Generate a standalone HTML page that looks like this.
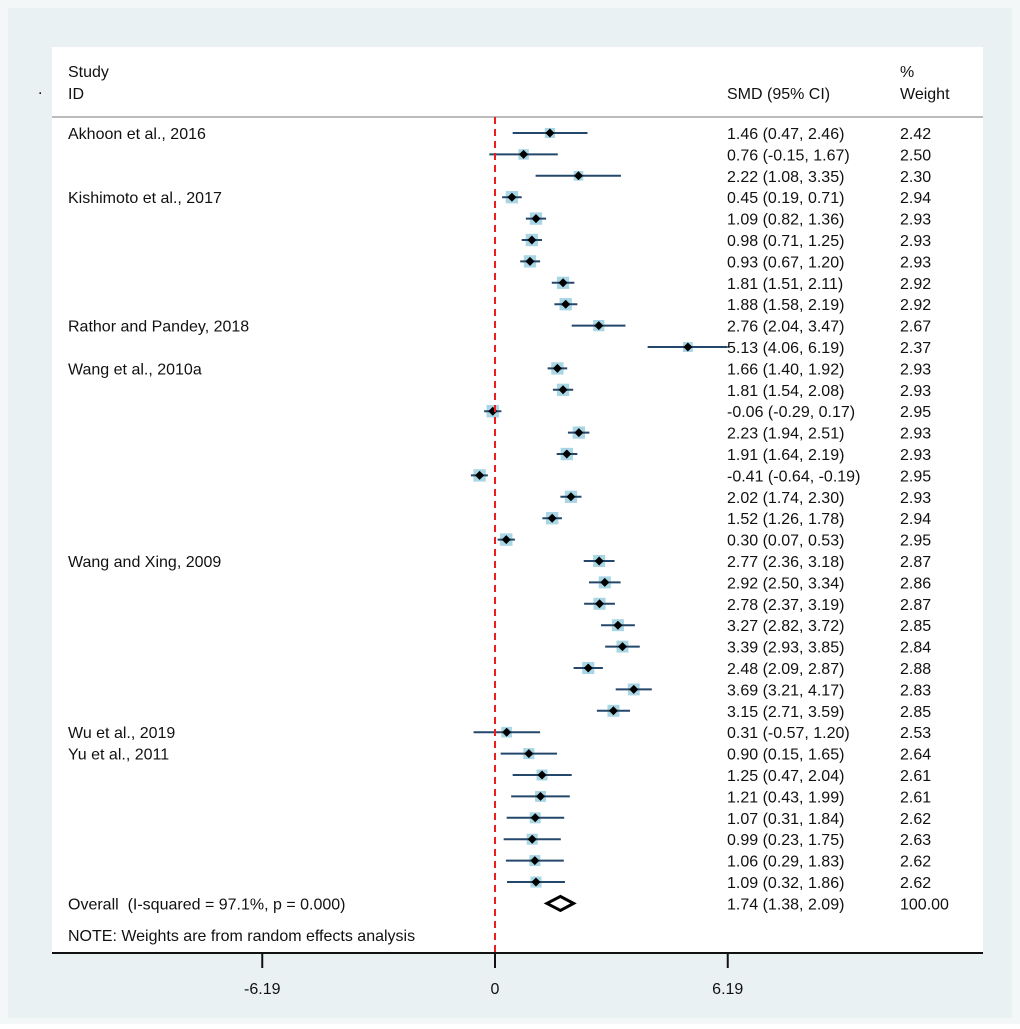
<!DOCTYPE html>
<html><head><meta charset="utf-8"><style>
body{margin:0;background:#fff}
svg text{font-family:"Liberation Sans",sans-serif;font-size:16px;fill:#111;white-space:pre}
</style></head><body>
<svg width="1020" height="1024">
<rect x="0" y="0" width="1020" height="1024" fill="#f4f7f8"/>
<rect x="8" y="8" width="1004" height="1010" fill="#eaf1f3"/>
<rect x="52" y="47" width="931" height="906" fill="#fff"/>
<text x="68" y="77">Study</text>
<text x="68" y="99">ID</text>
<text x="727" y="99">SMD (95% CI)</text>
<text x="900" y="77">%</text>
<text x="900" y="99">Weight</text>
<text x="38" y="94">.</text>
<line x1="52" y1="117" x2="983" y2="117" stroke="#bbb" stroke-width="2"/>
<g id="rows"></g>
<line x1="52" y1="953" x2="983" y2="953" stroke="#111" stroke-width="2"/>
<g id="axis"></g>
</svg>
<script>
const labels=["Akhoon et al., 2016","","","Kishimoto et al., 2017","","","","","","Rathor and Pandey, 2018","","Wang et al., 2010a","","","","","","","","","Wang and Xing, 2009","","","","","","","","Wu et al., 2019","Yu et al., 2011","","","","","",""];
const est=[1.46,0.76,2.22,0.45,1.09,0.98,0.93,1.81,1.88,2.76,5.13,1.66,1.81,-0.06,2.23,1.91,-0.41,2.02,1.52,0.30,2.77,2.92,2.78,3.27,3.39,2.48,3.69,3.15,0.31,0.90,1.25,1.21,1.07,0.99,1.06,1.09];
const lo=[0.47,-0.15,1.08,0.19,0.82,0.71,0.67,1.51,1.58,2.04,4.06,1.40,1.54,-0.29,1.94,1.64,-0.64,1.74,1.26,0.07,2.36,2.50,2.37,2.82,2.93,2.09,3.21,2.71,-0.57,0.15,0.47,0.43,0.31,0.23,0.29,0.32];
const hi=[2.46,1.67,3.35,0.71,1.36,1.25,1.20,2.11,2.19,3.47,6.19,1.92,2.08,0.17,2.51,2.19,-0.19,2.30,1.78,0.53,3.18,3.34,3.19,3.72,3.85,2.87,4.17,3.59,1.20,1.65,2.04,1.99,1.84,1.75,1.83,1.86];
const weights=["2.42","2.50","2.30","2.94","2.93","2.93","2.93","2.92","2.92","2.67","2.37","2.93","2.93","2.95","2.93","2.93","2.95","2.93","2.94","2.95","2.87","2.86","2.87","2.85","2.84","2.88","2.83","2.85","2.53","2.64","2.61","2.61","2.62","2.63","2.62","2.62"];
const overall=[1.74,1.38,2.09];
const ticks=[-6.19,0,6.19];
const tickLabels=["-6.19","0","6.19"];
const NS="http://www.w3.org/2000/svg";
const X=v=>495+v*37.6;
const Y=i=>133+i*21.4;
const f=v=>v.toFixed(2);
const g=document.getElementById('rows');
function mk(t,a,p){const e=document.createElementNS(NS,t);for(const k in a)e.setAttribute(k,a[k]);(p||g).appendChild(e);return e;}
est.forEach((e,i)=>{
 const y=Y(i);
 if(labels[i]){const t=mk('text',{x:68,y:y+6});t.textContent=labels[i];
 
 }
 const s=parseFloat(weights[i])*4.2;
 const b=mk('rect',{x:X(e)-s/2,y:y-s/2,width:s,height:s,fill:'#a9d6e5'});
 
 
 const l=mk('line',{x1:X(lo[i]),x2:X(hi[i]),y1:y,y2:y,stroke:'#24486b','stroke-width':2});
 
 
 const d=mk('polygon',{points:`${X(e)-4.5},${y} ${X(e)},${y-4.5} ${X(e)+4.5},${y} ${X(e)},${y+4.5}`,fill:'#000'});
 
 
 const c=mk('text',{x:727,y:y+6});c.textContent=`${f(e)} (${f(lo[i])}, ${f(hi[i])})`;
 
 
 const w=mk('text',{x:900,y:y+6});w.textContent=weights[i];
 
 
});
const oy=Y(36);
const ot=mk('text',{x:68,y:oy+6});ot.textContent="Overall  (I-squared = 97.1%, p = 0.000)";


const od=mk('polygon',{points:`${X(overall[1])},${oy} ${X(overall[0])},${oy-7} ${X(overall[2])},${oy} ${X(overall[0])},${oy+7}`,fill:'#fff',stroke:'#000','stroke-width':3});


const oc=mk('text',{x:727,y:oy+6});oc.textContent=`${f(overall[0])} (${f(overall[1])}, ${f(overall[2])})`;


const ow=mk('text',{x:900,y:oy+6});ow.textContent="100.00";


const nt=mk('text',{x:68,y:941});nt.textContent="NOTE: Weights are from random effects analysis";


const rl=mk('line',{x1:X(0),x2:X(0),y1:117,y2:953,stroke:'#ee1c1c','stroke-width':2,'stroke-dasharray':'7 5'});


const ax=document.getElementById('axis');
ticks.forEach((t,i)=>{
 const tk=mk('line',{x1:X(t),x2:X(t),y1:953,y2:968,stroke:'#111','stroke-width':2},ax);
 
 
 const tl=mk('text',{x:X(t),y:994,'text-anchor':'middle'},ax);tl.textContent=tickLabels[i];
 
 
});
</script>
</body></html>
